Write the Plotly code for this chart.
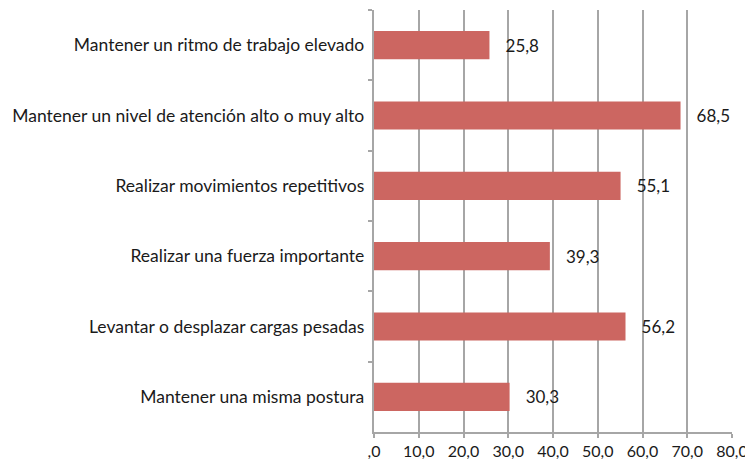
import plotly.graph_objects as go

categories = [
    "Mantener un ritmo de trabajo elevado",
    "Mantener un nivel de atención alto o muy alto",
    "Realizar movimientos repetitivos",
    "Realizar una fuerza importante",
    "Levantar o desplazar cargas pesadas",
    "Mantener una misma postura",
]
values = [25.8, 68.5, 55.1, 39.3, 56.2, 30.3]
tick_vals = [0, 10, 20, 30, 40, 50, 60, 70, 80]
tick_text = [",0", "10,0", "20,0", "30,0", "40,0", "50,0", "60,0", "70,0", "80,0"]
labels = ["   " + f"{v:.1f}".replace(".", ",") for v in values]

FONT = "Lato"
# page body has an 8px default margin; compensate so the plot sits where the reference does
fig = go.Figure(go.Bar(
    x=values, y=categories, orientation="h",
    marker=dict(color="#CC6661", line=dict(width=0)),
    width=0.4,
    text=labels, textposition="outside", cliponaxis=False,
    textfont=dict(family=FONT, size=17, color="#1a1a1a"),
))
fig.update_layout(
    width=745, height=457,
    margin=dict(l=366, r=21, t=2, b=33),
    paper_bgcolor="white", plot_bgcolor="white",
    showlegend=False,
    font=dict(family=FONT, size=17, color="#1a1a1a"),
)
fig.update_xaxes(
    range=[0, 80], tickvals=tick_vals, ticktext=tick_text, automargin=False,
    showgrid=True, gridcolor="#A6A6A6", gridwidth=1.5,
    zeroline=False, showline=True, linecolor="#A6A6A6", linewidth=1.5,
    ticks="outside", ticklen=4, tickcolor="#A6A6A6", tickwidth=1.5,
    tickfont=dict(family=FONT, size=16, color="#1a1a1a"),
)
fig.update_yaxes(
    autorange="reversed", automargin=False,
    showline=True, linecolor="#A6A6A6", linewidth=1.5,
    ticks="outside", tickson="boundaries", ticklen=4, tickcolor="#A6A6A6", tickwidth=1.5,
    showgrid=False,
    tickfont=dict(family=FONT, size=17.5, color="#1a1a1a"),
    ticksuffix=" ",
)
fig.write_html("out.html")
